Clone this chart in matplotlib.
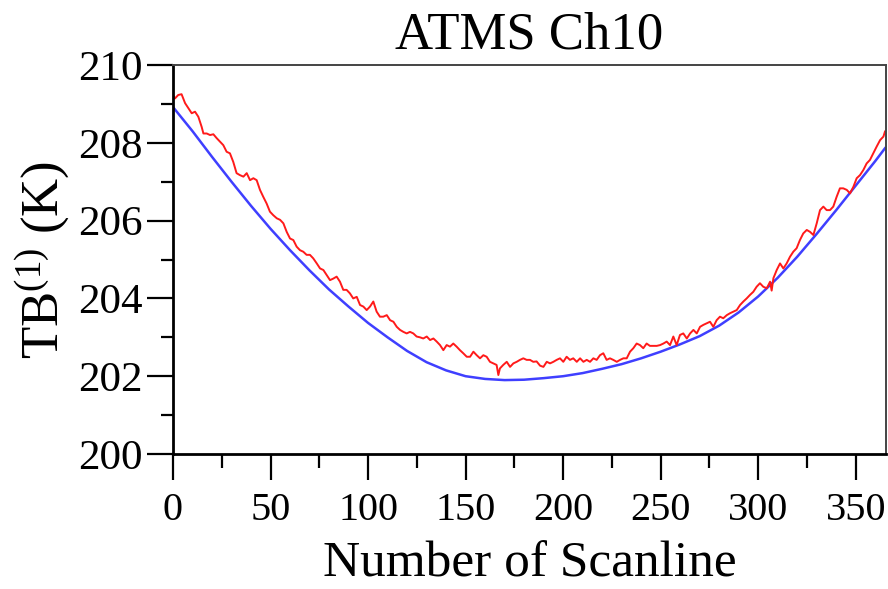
import numpy as np
import matplotlib
matplotlib.use("Agg")
import matplotlib.pyplot as plt
from matplotlib.ticker import MultipleLocator

plt.rcParams['font.family'] = ['Liberation Serif', 'DejaVu Serif']
plt.rcParams['mathtext.fontset'] = 'custom'
plt.rcParams['mathtext.rm'] = 'Liberation Serif'
plt.rcParams['mathtext.it'] = 'Liberation Serif:italic'

# observed TB along the scan (red)
obs_scan = [0.0, 1.0, 2.7, 4.4, 6.2, 7.9, 9.6, 11.3, 13.0, 14.7, 15.6, 17.3, 19.0, 20.7, 22.4,
            24.1, 25.8, 27.5, 29.2, 30.9, 32.6, 34.3, 36.1, 37.8, 39.5, 41.2, 42.9, 44.6, 46.3,
            48.0, 49.7, 51.4, 53.2, 54.9, 56.6, 58.3, 60.0, 61.7, 63.4, 65.1, 66.8, 68.5, 70.2,
            71.9, 73.7, 75.4, 77.1, 78.8, 80.5, 82.2, 83.9, 85.6, 87.3, 89.0, 90.7, 92.4, 94.2,
            95.9, 97.6, 99.3, 101.0, 102.7, 104.4, 106.1, 107.8, 109.6, 111.3, 113.0, 114.7,
            116.4, 118.1, 119.8, 121.5, 123.2, 124.9, 126.6, 128.3, 130.1, 131.8, 133.5, 135.2,
            136.9, 138.6, 140.3, 142.0, 143.7, 145.4, 147.1, 148.8, 150.6, 152.3, 154.0, 155.7,
            157.4, 159.1, 160.8, 162.5, 164.2, 165.9, 166.8, 167.6, 169.3, 171.1, 172.8, 174.5,
            176.2, 177.9, 179.6, 181.3, 183.0, 184.7, 186.4, 188.2, 189.9, 191.6, 193.3, 195.0,
            196.7, 198.4, 200.1, 201.8, 203.5, 205.2, 207.0, 208.7, 210.4, 212.1, 213.8, 215.5,
            217.2, 218.9, 220.6, 222.3, 224.0, 225.7, 227.5, 229.2, 230.9, 232.6, 234.3, 236.0,
            237.7, 239.4, 241.1, 242.8, 244.5, 246.2, 248.0, 249.7, 251.4, 253.1, 254.8, 256.5,
            258.2, 259.9, 261.6, 263.4, 265.1, 266.8, 268.5, 270.2, 271.9, 273.6, 275.3, 277.0,
            278.7, 280.4, 282.1, 283.9, 285.6, 287.3, 289.0, 290.7, 292.4, 294.1, 295.8, 297.5,
            299.2, 300.9, 302.6, 304.4, 306.1, 306.9, 307.8, 309.5, 311.2, 312.9, 314.6, 316.3,
            318.0, 319.7, 321.4, 323.1, 324.9, 326.6, 328.3, 330.0, 331.7, 333.4, 335.1, 336.8,
            338.5, 340.2, 341.9, 343.6, 345.4, 347.1, 348.8, 350.5, 352.2, 353.9, 355.6, 357.3,
            359.0, 360.7, 362.5, 364.2, 365.0]
obs_tb = [209.23, 209.14, 209.23, 209.25, 209.02, 208.89, 208.76, 208.80, 208.67, 208.41, 208.24,
          208.24, 208.20, 208.22, 208.12, 208.03, 207.94, 207.77, 207.73, 207.51, 207.22, 207.17,
          207.13, 207.22, 207.04, 207.09, 207.04, 206.79, 206.61, 206.44, 206.23, 206.14, 206.06,
          206.02, 205.93, 205.71, 205.54, 205.50, 205.33, 205.24, 205.20, 205.12, 205.12, 205.03,
          204.90, 204.77, 204.73, 204.60, 204.47, 204.51, 204.56, 204.43, 204.22, 204.22, 204.13,
          204.00, 204.04, 203.83, 203.79, 203.70, 203.79, 203.92, 203.66, 203.53, 203.53, 203.57,
          203.44, 203.40, 203.27, 203.19, 203.14, 203.10, 203.14, 203.10, 203.02, 203.00, 202.97,
          203.02, 202.93, 202.97, 202.89, 202.80, 202.67, 202.80, 202.76, 202.84, 202.76, 202.67,
          202.59, 202.50, 202.50, 202.63, 202.54, 202.46, 202.54, 202.50, 202.37, 202.33, 202.29,
          202.03, 202.20, 202.29, 202.37, 202.24, 202.33, 202.37, 202.42, 202.46, 202.42, 202.42,
          202.37, 202.38, 202.27, 202.24, 202.37, 202.33, 202.37, 202.42, 202.46, 202.37, 202.50,
          202.42, 202.46, 202.37, 202.46, 202.37, 202.42, 202.37, 202.46, 202.42, 202.54, 202.59,
          202.42, 202.46, 202.42, 202.37, 202.42, 202.46, 202.46, 202.63, 202.72, 202.84, 202.80,
          202.72, 202.84, 202.78, 202.78, 202.78, 202.80, 202.84, 202.89, 202.80, 203.02, 202.80,
          203.06, 203.10, 202.97, 203.10, 203.19, 203.10, 203.27, 203.32, 203.36, 203.40, 203.27,
          203.44, 203.53, 203.49, 203.57, 203.62, 203.66, 203.70, 203.83, 203.92, 204.00, 204.09,
          204.17, 204.30, 204.39, 204.30, 204.26, 204.43, 204.20, 204.52, 204.73, 204.90, 204.77,
          204.90, 205.07, 205.20, 205.29, 205.50, 205.67, 205.76, 205.71, 205.63, 205.93, 206.27,
          206.36, 206.27, 206.27, 206.36, 206.61, 206.83, 206.83, 206.79, 206.70, 206.87, 207.09,
          207.17, 207.30, 207.47, 207.56, 207.73, 207.90, 208.07, 208.16, 208.29]

# simulated TB (blue)
sim_scan = [0, 10, 20, 30, 40, 50, 60, 70, 80, 90, 100, 110, 120, 130, 140, 150, 160, 170,
            180, 190, 200, 210, 220, 230, 240, 250, 260, 270, 280, 290, 300, 310, 320, 330,
            340, 350, 360, 365]
sim_tb = [208.92, 208.30, 207.64, 207.00, 206.38, 205.79, 205.24, 204.72, 204.23, 203.79,
          203.37, 203.00, 202.65, 202.36, 202.15, 202.00, 201.93, 201.90, 201.91, 201.95,
          202.00, 202.08, 202.19, 202.31, 202.46, 202.63, 202.82, 203.03, 203.30, 203.64,
          204.05, 204.53, 205.07, 205.66, 206.27, 206.90, 207.53, 207.86]

fig = plt.figure(figsize=(8.88, 5.89), dpi=100)
ax = fig.add_axes([0.1948, 0.2292, 0.8029, 0.6604])

ax.plot(sim_scan, sim_tb, color='#3f3fff', lw=1.8)
ax.plot(obs_scan, obs_tb, color='#ff1a1a', lw=1.4)

ax.set_xlim(0, 365.5)
ax.set_ylim(200, 210)
ax.xaxis.set_major_locator(MultipleLocator(50))
ax.xaxis.set_minor_locator(MultipleLocator(25))
ax.yaxis.set_major_locator(MultipleLocator(2))
ax.yaxis.set_minor_locator(MultipleLocator(1))

ax.tick_params(axis='x', which='major', direction='out', length=19, width=1.6,
               labelsize=29, pad=8)
ax.tick_params(axis='x', which='minor', direction='out', length=10, width=1.6)
ax.tick_params(axis='y', which='major', direction='out', length=19, width=1.6,
               labelsize=31, pad=3)
ax.tick_params(axis='y', which='minor', direction='out', length=9, width=1.6)
ax.tick_params(top=False, right=False, which='both')

for side in ['left', 'bottom']:
    ax.spines[side].set_linewidth(2.0)
for side in ['top', 'right']:
    ax.spines[side].set_linewidth(1.4)
    ax.spines[side].set_color('#444444')

ax.set_title('ATMS Ch10', fontsize=38, pad=12)
ax.set_xlabel('Number of Scanline', fontsize=37, labelpad=9)
ax.set_ylabel('TB$^{(1)}$ (K)', fontsize=38, labelpad=4)

fig.savefig('out.png', dpi=100)
